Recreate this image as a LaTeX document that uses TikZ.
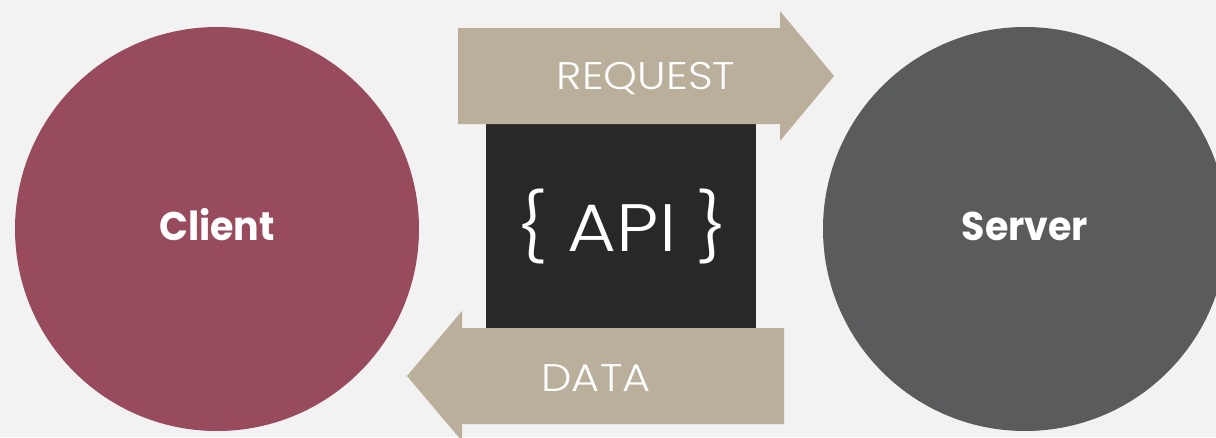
\documentclass[tikz,border=0pt]{standalone}
\usepackage{fontspec}
\setmainfont{Poppins}
\newfontfamily\lightfont{Poppins Light}[FakeStretch=1.12]
\newfontfamily\boldfont{Poppins Bold}[FakeStretch=0.95]
\definecolor{bg}{HTML}{F2F2F2}
\definecolor{clientred}{HTML}{984B5D}
\definecolor{servergray}{HTML}{5A5B5D}
\definecolor{apiblack}{HTML}{282828}
\definecolor{flowtan}{HTML}{B9AF9A}
\tikzstyle{party}=[circle,minimum size=404pt,inner sep=0pt]
\tikzstyle{partytext}=[anchor=base,inner sep=0pt,text=white,font=\boldfont\fontsize{40}{40}\selectfont]
\tikzstyle{apibox}=[rectangle,fill=apiblack,minimum width=270pt,minimum height=204pt,inner sep=0pt]
\tikzstyle{flowtext}=[anchor=base,inner sep=0pt,text=white,font=\lightfont\fontsize{38.5}{38.5}\selectfont]

\begin{document}
\begin{tikzpicture}[x=1pt,y=-1pt]
    \fill[bg] (0,0) rectangle (1216,437);
    \useasboundingbox (0,0) rectangle (1216,437);
    % client and server
    \foreach \pos/\name/\col in {{(217,229)/client/clientred}, {(1025,229)/server/servergray}}
        \node[party,fill=\col] (\name) at \pos {};
    \node[partytext] (clientlabel) at (217,240) {Client};
    \node[partytext] (serverlabel) at (1025,240) {Server};
    % api in the middle
    \node[apibox] (api) at (621,226) {};
    \node[flowtext,font=\lightfont\fontsize{67}{67}\selectfont] (apilabel) at (622,251) {\{ API \}};
    % request and data arrows
    \fill[flowtan] (458,28) -- (780,28) -- (780,11) -- (834,76) -- (780,141) -- (780,124) -- (458,124) -- cycle;
    \fill[flowtan] (784,328) -- (462,328) -- (462,311) -- (407,376) -- (462,441) -- (462,424) -- (784,424) -- cycle;
    \node[flowtext] (request) at (646,89) {REQUEST};
    \node[flowtext] (data) at (596,391) {DATA};
\end{tikzpicture}
\end{document}
